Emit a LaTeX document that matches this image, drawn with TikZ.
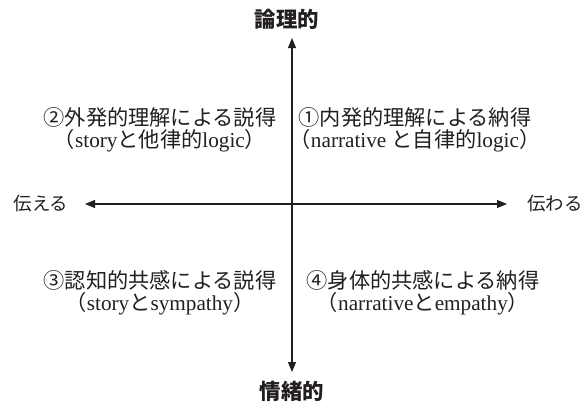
\documentclass[tikz,border=0pt]{standalone}
\usepackage{fontspec}
\setmainfont{Liberation Serif}
\newfontfamily\cjk{Noto Sans CJK JP}
\usetikzlibrary{arrows.meta}
\newcommand\jj[1]{{\cjk #1}}
\definecolor{ink}{HTML}{231F20}
\tikzset{
  axislabel/.style={font={\cjk\bfseries\fontsize{21.5}{23}\selectfont}, text=ink, inner sep=0pt},
  sidelabel/.style={font={\cjk\fontsize{18.5}{20}\selectfont}, text=ink, inner sep=0pt},
  quad/.style={font={\fontsize{21.3}{22.5}\selectfont}, text=ink, align=center, inner sep=0pt},
  axisline/.style={draw=ink, line width=1.1bp, {Triangle[length=10bp,width=8bp]}-{Triangle[length=10bp,width=8bp]}}
}
\begin{document}
\begin{tikzpicture}[x=1bp,y=-1bp]
\useasboundingbox[fill=white] (0,0) rectangle (585,403);
\node[axislabel] (top) at (287,19) {論理的};
\node[axislabel] (bot) at (292,391) {情緒的};
\node[sidelabel] (left) at (41,204) {伝える};
\node[sidelabel] (right) at (555,204) {伝わる};
\coordinate (vt) at (292,38);
\coordinate (vb) at (292,372);
\coordinate (hl) at (85,204);
\coordinate (hr) at (507,204);
\draw[axisline] (vt) -- (vb);
\draw[axisline] (hl) -- (hr);
\node[quad] (q2) at (160,130) {\jj{②外発的理解による説得}\\\jj{（}story\jj{と他律的}logic\jj{）}};
\node[quad] (q1) at (415,130) {\jj{①内発的理解による納得}\\\jj{（}narrative \jj{と自律的}logic\jj{）}};
\node[quad] (q3) at (160,293) {\jj{③認知的共感による説得}\\\jj{（}story\jj{と}sympathy\jj{）}};
\node[quad] (q4) at (423,293) {\jj{④身体的共感による納得}\\\jj{（}narrative\jj{と}empathy\jj{）}};
\end{tikzpicture}
\end{document}
